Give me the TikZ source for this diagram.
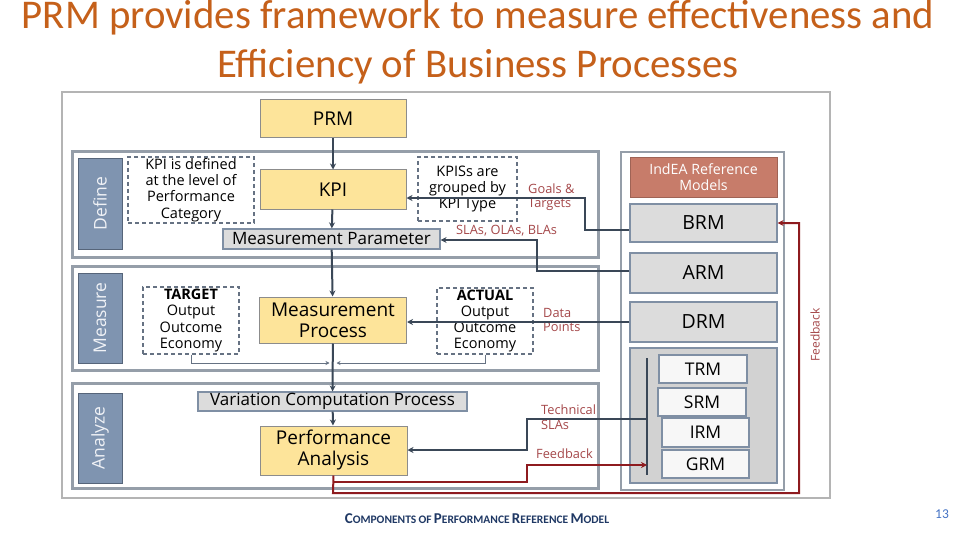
\documentclass[tikz,border=0pt]{standalone}
\usepackage{fontspec}
\setmainfont{Open Sans}
\newfontfamily\ttlfont{Carlito}
\usetikzlibrary{arrows.meta}
\definecolor{ttl}{HTML}{C5601A}
\definecolor{ylw}{HTML}{FDE49A}
\definecolor{ybd}{HTML}{8C8C8C}
\definecolor{gfill}{HTML}{DCDCDC}
\definecolor{gbd}{HTML}{7F8FA4}
\definecolor{bandc}{HTML}{959EA9}
\definecolor{slate}{HTML}{7F94B0}
\definecolor{slatebd}{HTML}{56657A}
\definecolor{dk}{HTML}{3A4757}
\definecolor{rline}{HTML}{8E1B1F}
\definecolor{rtxt}{HTML}{A5484A}
\definecolor{indea}{HTML}{C77C6A}
\definecolor{grp}{HTML}{D2D2D2}
\definecolor{capc}{HTML}{1F3864}
\definecolor{pgc}{HTML}{4472C4}
\definecolor{framec}{HTML}{B4B4B4}
\newcommand\scw[2]{{\fontsize{15}{15}\selectfont #1}{\fontsize{11.5}{11.5}\selectfont #2}}
\begin{document}
\begin{tikzpicture}[x=1pt,y=-1pt,
  sz/.style 2 args={minimum width=#1, minimum height=#2, inner sep=0pt, align=center},
  frame/.style={draw=framec, line width=1.5, fill=white},
  band/.style={draw=bandc, line width=3},
  lbl/.style={fill=slate, draw=slatebd, line width=0.9, text=white!88!slate, rotate=90, font=\fontsize{17.5}{17.5}\selectfont},
  ybox/.style={fill=ylw, draw=ybd, line width=1, font=\fontsize{19}{21}\selectfont},
  gbox/.style={fill=gfill, draw=gbd, line width=1.2, font=\fontsize{17}{18}\selectfont},
  note/.style={draw=gbd!80!black, line width=1.2, dash pattern=on 4pt off 3pt, font=\fontsize{14.5}{16.3}\selectfont},
  rbox/.style={fill=gfill, draw=gbd, line width=1.2, font=\fontsize{19.5}{20}\selectfont},
  wbox/.style={fill=white!94!gray, draw=gbd, line width=1.2, font=\fontsize{17.5}{18}\selectfont},
  rlab/.style={text=rtxt, anchor=west, inner sep=0pt, font=\fontsize{12.8}{14.5}\selectfont, align=left},
  darr/.style={draw=dk, line width=2, -{Stealth[length=6pt,width=6pt]}},
  rarr/.style={draw=rline, line width=2, -{Stealth[length=6pt,width=6pt]}},
  thin/.style={draw=gbd!80!black, line width=0.8, -{Stealth[length=4pt,width=4pt]}}
]
\useasboundingbox (0,0) rectangle (960,540);
% title
\node[font=\ttlfont\fontsize{40.8}{44}\selectfont, text=ttl] (t1) at (478,18) {PRM provides framework to measure effectiveness and};
\node[font=\ttlfont\fontsize{40.8}{44}\selectfont, text=ttl] (t2) at (478,67) {Efficiency of Business Processes};
% frame
\node[frame, sz={768}{406}] (frm) at (446,295) {};
% bands
\node[band, sz={526}{105}] (bdef) at (335,204.5) {};
\node[band, sz={526}{104}] (bmea) at (335,318) {};
\node[band, sz={526}{105}] (bana) at (335,435.5) {};
\node[lbl, sz={91}{44}] (ldef) at (100,203.5) {Define};
\node[lbl, sz={90}{44}] (lmea) at (100,318) {Measure};
\node[lbl, sz={90}{44}] (lana) at (100,438) {Analyze};
% right panel
\node[draw=bandc, line width=2.5, fill=white, sz={163}{338}] (rp) at (702.5,321) {};
\node[fill=indea, draw=indea!80!black, line width=0.8, text=white, sz={147}{40}, font=\fontsize{14.2}{16.5}\selectfont] (ind) at (703.5,177) {IndEA Reference\\Models};
\node[rbox, sz={147}{38}] (brm) at (703.5,223) {BRM};
\node[rbox, sz={147}{40}] (arm) at (703.5,273) {ARM};
\node[rbox, sz={147}{40}] (drm) at (703.5,322) {DRM};
\node[fill=grp, draw=gbd, line width=1.2, sz={147}{135}] (grp) at (703.5,415.5) {};
\coordinate (bt) at (647,358);
\coordinate (bb) at (647,475);
\draw[dk, line width=1.5] (bt) -- (bb);
\node[wbox, sz={88}{28}] (trm) at (703,369) {TRM};
\node[wbox, sz={88}{28}] (srm) at (702,402) {SRM};
\node[wbox, sz={87}{29}] (irm) at (705.5,432.5) {IRM};
\node[wbox, sz={87}{28}] (grm) at (705.5,464) {GRM};
% main column
\node[ybox, sz={146}{38}] (prm) at (333,119) {PRM};
\node[ybox, sz={146}{39}] (kpi) at (333,189.5) {KPI};
\node[gbox, sz={217}{20}] (mp) at (331.5,239) {Measurement Parameter};
\node[ybox, sz={147}{46}] (mpr) at (333,320) {Measurement\\Process};
\node[gbox, sz={269}{19}] (vcp) at (332.5,401.5) {Variation Computation Process};
\node[ybox, sz={147}{49}] (pa) at (333.5,450.5) {Performance\\Analysis};
% notes
\node[note, sz={126}{66}] (n1) at (191,190) {KPI is defined\\at the level of\\Performance\\Category};
\node[note, sz={99}{64}] (n2) at (467.5,189) {KPISs are\\grouped by\\KPI Type};
\node[note, sz={96}{67}] (tg) at (191,320.5) {\textbf{TARGET}\\Output\\Outcome\\Economy};
\node[note, sz={96}{66}] (ac) at (485,321) {\textbf{ACTUAL}\\Output\\Outcome\\Economy};
% red labels
\node[rlab] (lg) at (528,197) {Goals \&\\Targets};
\node[rlab] (ls) at (456,231) {SLAs, OLAs, BLAs};
\node[rlab] (ld) at (543,320) {Data\\Points};
\node[rlab] (lt) at (541,417) {Technical\\SLAs};
\node[rlab] (lf) at (536,454) {Feedback};
\node[text=rtxt, rotate=90, font=\fontsize{12}{12}\selectfont] (lfv) at (815,335) {Feedback};
% main arrows
\draw[darr] (prm) -- (kpi);
\draw[darr] (kpi) -- (mp);
\draw[darr] (mp) -- (mpr);
\draw[darr] (mpr) -- (vcp);
\draw[darr] (vcp) -- (pa);
% connectors from reference models
\draw[darr] (brm.west |- 0,230) -- (585,230) -- (585,198) -- (kpi.east |- 0,198);
\draw[darr] (arm.west |- 0,271) -- (537,271) -- (537,240) -- (mp.east |- 0,240);
\draw[darr] (drm.west |- 0,322) -- (mpr.east |- 0,322);
\draw[darr] (bt |- 0,419) -- (527,419) -- (527,450) -- (pa.east |- 0,450);
% thin arrows from target/actual
\draw[thin] (tg.south) -- (tg.south |- 0,363) -- (329.5,363);
\draw[thin] (ac.south) -- (ac.south |- 0,363) -- (336.5,363);
% feedback
\draw[rarr] (pa.south) -- (333,493) -- (799,493) -- (799,223) -- (brm.east);
\draw[rarr] (333,482) -- (527,482) -- (527,465) -- (bt |- 0,465);
% caption
\node[text=capc, font=\ttlfont\bfseries] (cap) at (477,519) {\scw{C}{OMPONENTS} \scw{}{OF} \scw{P}{ERFORMANCE} \scw{R}{EFERENCE} \scw{M}{ODEL}};
\node[text=pgc, font=\ttlfont\fontsize{13.5}{14}\selectfont] (pg) at (942,514) {13};
\end{tikzpicture}
\end{document}
